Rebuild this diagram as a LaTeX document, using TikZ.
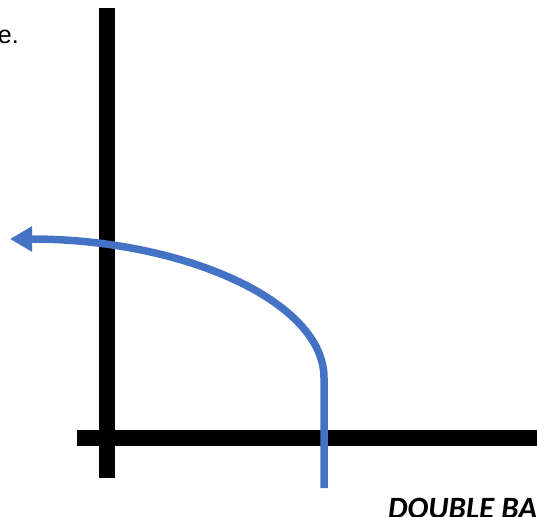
\documentclass[tikz,border=0pt]{standalone}
\usepackage{fontspec}
\setmainfont{Liberation Sans}
\newfontfamily\calib{Carlito}
\usetikzlibrary{arrows.meta}
\definecolor{pathblue}{HTML}{4472C4}

\begin{document}
\begin{tikzpicture}[
  x=1pt,y=-1pt,
  bar/.style={line width=16pt,black},
  move/.style={line width=7.5pt,pathblue,-{Triangle[length=22pt,width=24pt]}},
  lab/.style={inner sep=0pt,font=\fontsize{25}{30}\selectfont}
]
\useasboundingbox (0,0) rectangle (537,516);

% axes
\coordinate (vtop) at (107,8);
\coordinate (vbot) at (107,478);
\coordinate (hleft) at (77,438);
\coordinate (hright) at (545,438);
\draw[bar] (vtop) -- (vbot);
\draw[bar] (hleft) -- (hright);

% ball path
\coordinate (start) at (324,488);
\coordinate (turn) at (324,378);
\draw[move] (start) -- (turn) arc[start angle=0,end angle=-90,x radius=314,y radius=139];

\node[lab,anchor=base east] (note) at (19,44) {e.};
\node[lab,anchor=base west,font=\fontsize{31}{36}\selectfont\calib\bfseries\itshape] (title) at (388,518) {DOUBLE BA};

\end{tikzpicture}
\end{document}
